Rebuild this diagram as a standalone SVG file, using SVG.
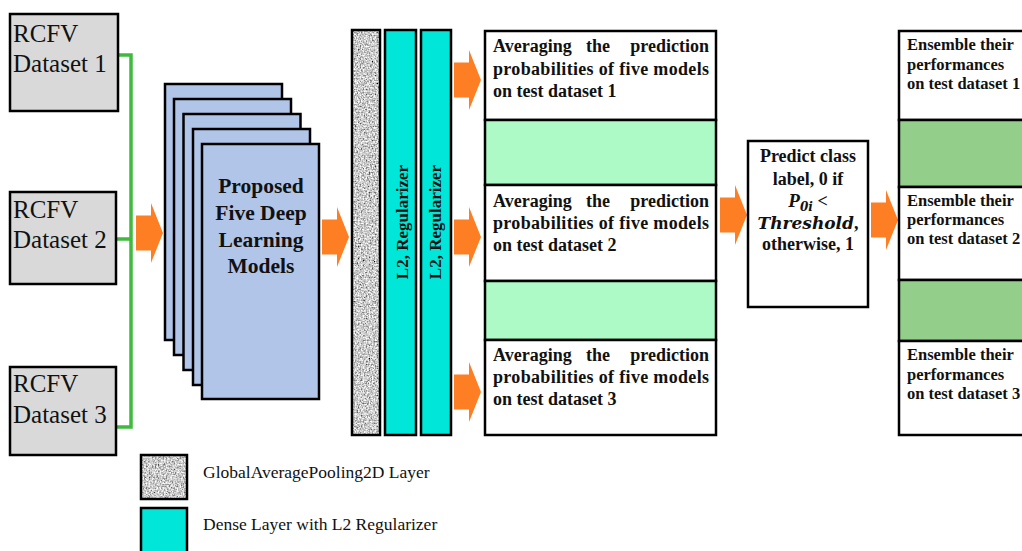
<svg xmlns="http://www.w3.org/2000/svg" width="1022" height="551" viewBox="0 0 1022 551">
<style>
.box{stroke:#000;stroke-width:2.5}
.ds{fill:#d9d9d9}
.blue{fill:#b0c5e8}
.cyan{fill:#00e6d9}
.white{fill:#fff}
.lg{fill:#adfac6}
.dg{fill:#93cf8a}
.t{font-family:"Liberation Serif","Times New Roman",serif;fill:#111}
.b{font-weight:bold}
.dst{font-size:25px}
.avg{font-size:18px;font-weight:bold}
.ens{font-size:16.5px;font-weight:bold}
.leg{font-size:17.5px}
.green{fill:none;stroke:#3fba3f;stroke-width:3.5}
.arrow{fill:#fd7e23}
</style>
<defs>
<filter id="noise" x="0" y="0" width="1" height="1">
<feTurbulence type="fractalNoise" baseFrequency="0.65" numOctaves="2" seed="3" result="n"/>
<feColorMatrix in="n" type="matrix" values="1.7 0 0 0 -0.25  1.7 0 0 0 -0.25  1.7 0 0 0 -0.25  0 0 0 0 1" result="g"/>
<feComposite in="g" in2="SourceGraphic" operator="in"/>
</filter>
<path id="arr" d="M-27,-17.5 H-12 V-30 L0,0 L-12,30 V17.5 H-27 Z"/>
</defs>
<rect width="1022" height="551" fill="#fff"/>

<g id="connectors">
<path class="green" d="M118,55 H131 V427 H116 M116,239 H131"/>
<use href="#arr" class="arrow" x="163" y="233"/>
<use href="#arr" class="arrow" x="349" y="237"/>
<use href="#arr" class="arrow" x="481" y="80"/>
<use href="#arr" class="arrow" x="481" y="237"/>
<use href="#arr" class="arrow" x="481" y="392"/>
<use href="#arr" class="arrow" x="747" y="215"/>
<use href="#arr" class="arrow" x="898" y="220"/>
</g>

<g id="dataset1">
<rect class="box ds" x="10" y="14" width="108" height="97"/>
<text class="t dst" x="13" y="42">RCFV</text>
<text class="t dst" x="13" y="72">Dataset 1</text>
</g>
<g id="dataset2">
<rect class="box ds" x="10" y="192" width="106" height="92"/>
<text class="t dst" x="13" y="218">RCFV</text>
<text class="t dst" x="13" y="248">Dataset 2</text>
</g>
<g id="dataset3">
<rect class="box ds" x="10" y="367" width="106" height="88"/>
<text class="t dst" x="13" y="392">RCFV</text>
<text class="t dst" x="13" y="423">Dataset 3</text>
</g>

<g id="models">
<rect class="box blue" x="165" y="84" width="117" height="256"/>
<rect class="box blue" x="174" y="99" width="117" height="256"/>
<rect class="box blue" x="183.5" y="114" width="117" height="256"/>
<rect class="box blue" x="193" y="129" width="117" height="256"/>
<rect class="box blue" x="202" y="144" width="117" height="255"/>
<g class="t b" font-size="21.5" text-anchor="middle">
<text x="261" y="193">Proposed</text>
<text x="261" y="220">Five Deep</text>
<text x="261" y="247">Learning</text>
<text x="261" y="273">Models</text>
</g>
</g>

<g id="gap-layer">
<rect x="352" y="30" width="28" height="405" fill="#999" filter="url(#noise)"/>
<rect x="352" y="30" width="28" height="405" fill="none" class="box"/>
</g>
<g id="dense1">
<rect class="box cyan" x="385" y="30" width="31" height="405"/>
<text class="t b" font-size="17" text-anchor="middle" transform="translate(407.5,222) rotate(-90)">L2, Regularizer</text>
</g>
<g id="dense2">
<rect class="box cyan" x="421" y="30" width="30" height="405"/>
<text class="t b" font-size="17" text-anchor="middle" transform="translate(441,222) rotate(-90)">L2, Regularizer</text>
</g>

<g id="averaging">
<rect class="box white" x="485" y="31" width="231" height="89"/>
<rect class="box lg" x="485" y="120" width="231" height="65"/>
<rect class="box white" x="485" y="185" width="231" height="96"/>
<rect class="box lg" x="485" y="281" width="231" height="59"/>
<rect class="box white" x="485" y="340" width="231" height="95"/>
<g class="t avg">
<text x="493" y="52">Averaging</text><text x="598" y="52" text-anchor="middle">the</text><text x="709" y="52" text-anchor="end">prediction</text>
<text x="493" y="75" textLength="216" lengthAdjust="spacing">probabilities of five models</text>
<text x="493" y="97">on test dataset 1</text>
<text x="493" y="207">Averaging</text><text x="598" y="207" text-anchor="middle">the</text><text x="709" y="207" text-anchor="end">prediction</text>
<text x="493" y="229" textLength="216" lengthAdjust="spacing">probabilities of five models</text>
<text x="493" y="251">on test dataset 2</text>
<text x="493" y="361">Averaging</text><text x="598" y="361" text-anchor="middle">the</text><text x="709" y="361" text-anchor="end">prediction</text>
<text x="493" y="383" textLength="216" lengthAdjust="spacing">probabilities of five models</text>
<text x="493" y="405">on test dataset 3</text>
</g>
</g>

<g id="predict">
<rect class="box white" x="748" y="141" width="120" height="166"/>
<g class="t b" font-size="18" text-anchor="middle">
<text x="808" y="162">Predict class</text>
<text x="808" y="185">label, 0 if</text>
<text x="808" y="207"><tspan font-style="italic" font-size="19">P</tspan><tspan font-size="12" dy="4" font-family="DejaVu Serif" font-style="italic">0i</tspan><tspan dy="-4"> &lt;</tspan></text>
<text x="808" y="229"><tspan font-family="DejaVu Serif" font-style="italic" font-size="17">Threshold</tspan>,</text>
<text x="808" y="250">otherwise, 1</text>
</g>
</g>

<g id="ensemble">
<rect class="box white" x="899" y="31" width="130" height="89"/>
<rect class="box dg" x="899" y="120" width="130" height="67"/>
<rect class="box white" x="899" y="187" width="130" height="93"/>
<rect class="box dg" x="899" y="280" width="130" height="61"/>
<rect class="box white" x="899" y="341" width="130" height="94"/>
<g class="t ens">
<text x="907" y="50">Ensemble their</text>
<text x="907" y="70">performances</text>
<text x="907" y="89">on test dataset 1</text>
<text x="907" y="206">Ensemble their</text>
<text x="907" y="225">performances</text>
<text x="907" y="244">on test dataset 2</text>
<text x="907" y="360">Ensemble their</text>
<text x="907" y="380">performances</text>
<text x="907" y="399">on test dataset 3</text>
</g>
</g>

<g id="legend">
<rect x="141" y="455" width="46" height="44" fill="#999" filter="url(#noise)"/>
<rect x="141" y="455" width="46" height="44" fill="none" class="box" stroke-width="3"/>
<text class="t leg" x="203" y="478">GlobalAveragePooling2D Layer</text>
<rect class="box cyan" x="141" y="508" width="46" height="50" stroke-width="3"/>
<text class="t leg" x="203" y="530">Dense Layer with L2 Regularizer</text>
</g>
</svg>
